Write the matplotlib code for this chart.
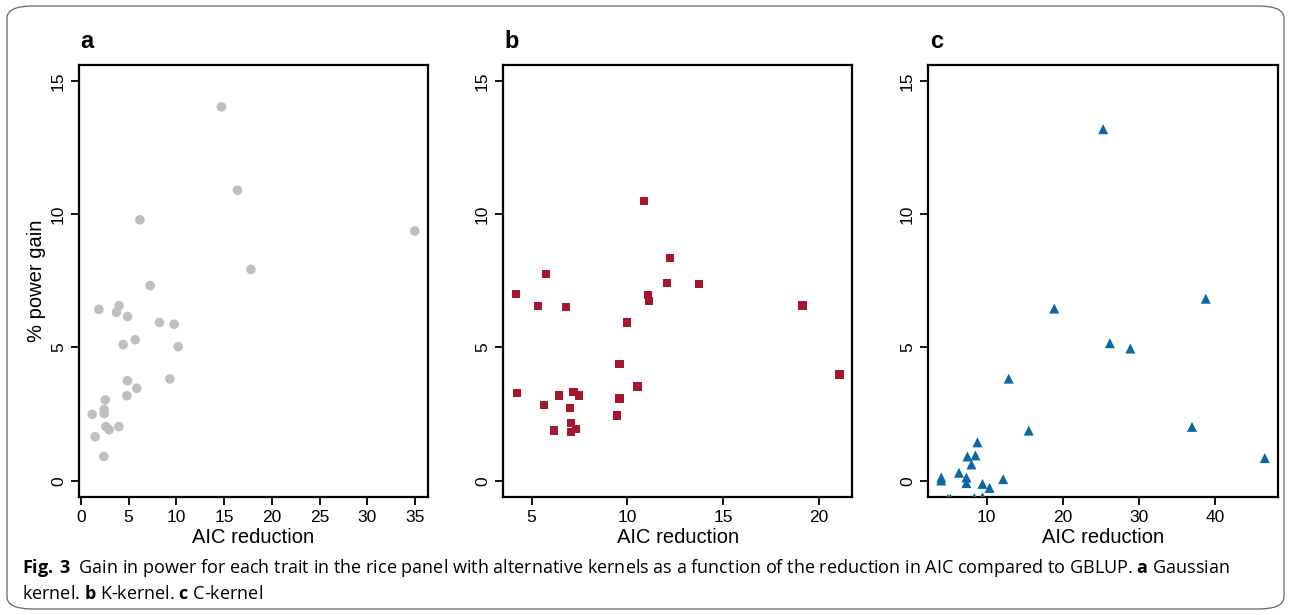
import numpy as np
import matplotlib
matplotlib.use("Agg")
import matplotlib.pyplot as plt
from matplotlib.patches import FancyBboxPatch

plt.rcParams['font.family'] = ['Liberation Sans', 'DejaVu Sans']
plt.rcParams['mathtext.fontset'] = 'custom'
plt.rcParams['mathtext.rm'] = 'Open Sans'
plt.rcParams['mathtext.bf'] = 'Open Sans:bold'

# panel a: Gaussian kernel
aic_gauss = [14.72, 16.4, 6.18, 34.96, 17.8, 7.26, 1.88, 4.01, 3.73, 4.88, 8.23, 9.77, 5.69, 4.43,
             10.19, 9.32, 4.88, 5.86, 4.82, 2.55, 2.44, 2.44, 1.19, 2.62, 2.97, 3.98, 1.5, 2.41]
gain_gauss = [14.03, 10.9, 9.79, 9.37, 7.93, 7.32, 6.43, 6.57, 6.32, 6.16, 5.94, 5.87, 5.29, 5.11,
              5.03, 3.82, 3.75, 3.47, 3.19, 3.03, 2.67, 2.52, 2.49, 2.03, 1.91, 2.03, 1.65, 0.91]

# panel b: K-kernel
aic_k = [10.88, 12.24, 5.77, 12.08, 13.75, 4.2, 11.09, 11.14, 5.35, 6.81, 19.13, 9.99, 9.58, 21.06,
         10.52, 4.25, 7.18, 6.44, 7.49, 9.58, 5.66, 7.02, 9.47, 7.07, 6.18, 7.33, 7.07]
gain_k = [10.49, 8.35, 7.75, 7.41, 7.37, 7.0, 6.98, 6.75, 6.55, 6.51, 6.58, 5.94, 4.37, 3.99,
          3.54, 3.28, 3.32, 3.2, 3.2, 3.09, 2.83, 2.72, 2.45, 2.17, 1.89, 1.93, 1.83]

# panel c: C-kernel
aic_c = [25.33, 38.81, 18.9, 26.21, 28.9, 12.91, 37.0, 15.55, 46.56, 8.81, 7.49, 8.55, 8.02, 6.38,
         4.05, 4.05, 7.36, 7.36, 12.19, 9.47, 10.4, 4.93, 5.24, 8.41, 9.47]
gain_c = [13.19, 6.83, 6.46, 5.16, 4.96, 3.83, 2.02, 1.88, 0.85, 1.44, 0.91, 0.95, 0.61, 0.30,
          0.12, 0.01, 0.12, -0.09, 0.06, -0.12, -0.27, -0.68, -0.68, -0.65, -0.62]

panels = [
    ('a', aic_gauss, gain_gauss, 'o', '#bfbfbf', 48, [0, 5, 10, 15, 20, 25, 30, 35], 79.3, 427.7),
    ('b', aic_k, gain_k, 's', '#a6172d', 36, [5, 10, 15, 20], 503.3, 852.3),
    ('c', aic_c, gain_c, '^', '#0b68a4', 52, [10, 20, 30, 40], 928.3, 1277.7),
]

W, H = 1292, 615
fig = plt.figure(figsize=(W / 100, H / 100), dpi=100)

for i, (lab, x, y, mk, col, sz, xt, x0, x1) in enumerate(panels):
    ax = fig.add_axes([x0 / W, (H - 496.7) / H, (x1 - x0) / W, (496.7 - 65) / H])
    ax.scatter(x, y, marker=mk, s=sz, color=col, edgecolors='none', zorder=3)
    lo, hi = min(x), max(x)
    pad = (hi - lo) * 0.04
    ax.set_xlim(lo - pad, hi + pad)
    ax.set_ylim(-0.6, 15.6)
    ax.set_xticks(xt)
    ax.set_yticks([0, 5, 10, 15])
    ax.tick_params(direction='out', length=6, width=1.3, labelsize=12.5, color='black')
    for t in ax.get_yticklabels():
        t.set_rotation(90)
        t.set_va('center')
    for s in ax.spines.values():
        s.set_linewidth(1.6)
    ax.set_xlabel('AIC reduction', fontsize=14.5, labelpad=2)
    if i == 0:
        ax.set_ylabel('% power gain', fontsize=14.5, labelpad=4)
    fig.text((x0 + 8) / W, 1 - 41 / H, lab, fontsize=17, fontweight='bold',
             ha='center', va='center')

# rounded frame round the figure
frame = FancyBboxPatch((7 / W, 6 / H), 1277 / W, 603 / H,
                       boxstyle='round,pad=0,rounding_size=0.02',
                       transform=fig.transFigure, fill=False,
                       edgecolor='#666666', linewidth=0.9)
fig.patches.append(frame)

cap1 = (r'$\mathbf{Fig.\,3}$  Gain in power for each trait in the rice panel with alternative kernels '
        r'as a function of the reduction in AIC compared to GBLUP. $\mathbf{a}$ Gaussian')
cap2 = r'kernel. $\mathbf{b}$ K-kernel. $\mathbf{c}$ C-kernel'
fig.text(22 / W, 1 - 568 / H, cap1, fontsize=13.0, family='Open Sans', va='center', ha='left')
fig.text(22 / W, 1 - 594 / H, cap2, fontsize=13.0, family='Open Sans', va='center', ha='left')

fig.savefig('out.png', dpi=100)
